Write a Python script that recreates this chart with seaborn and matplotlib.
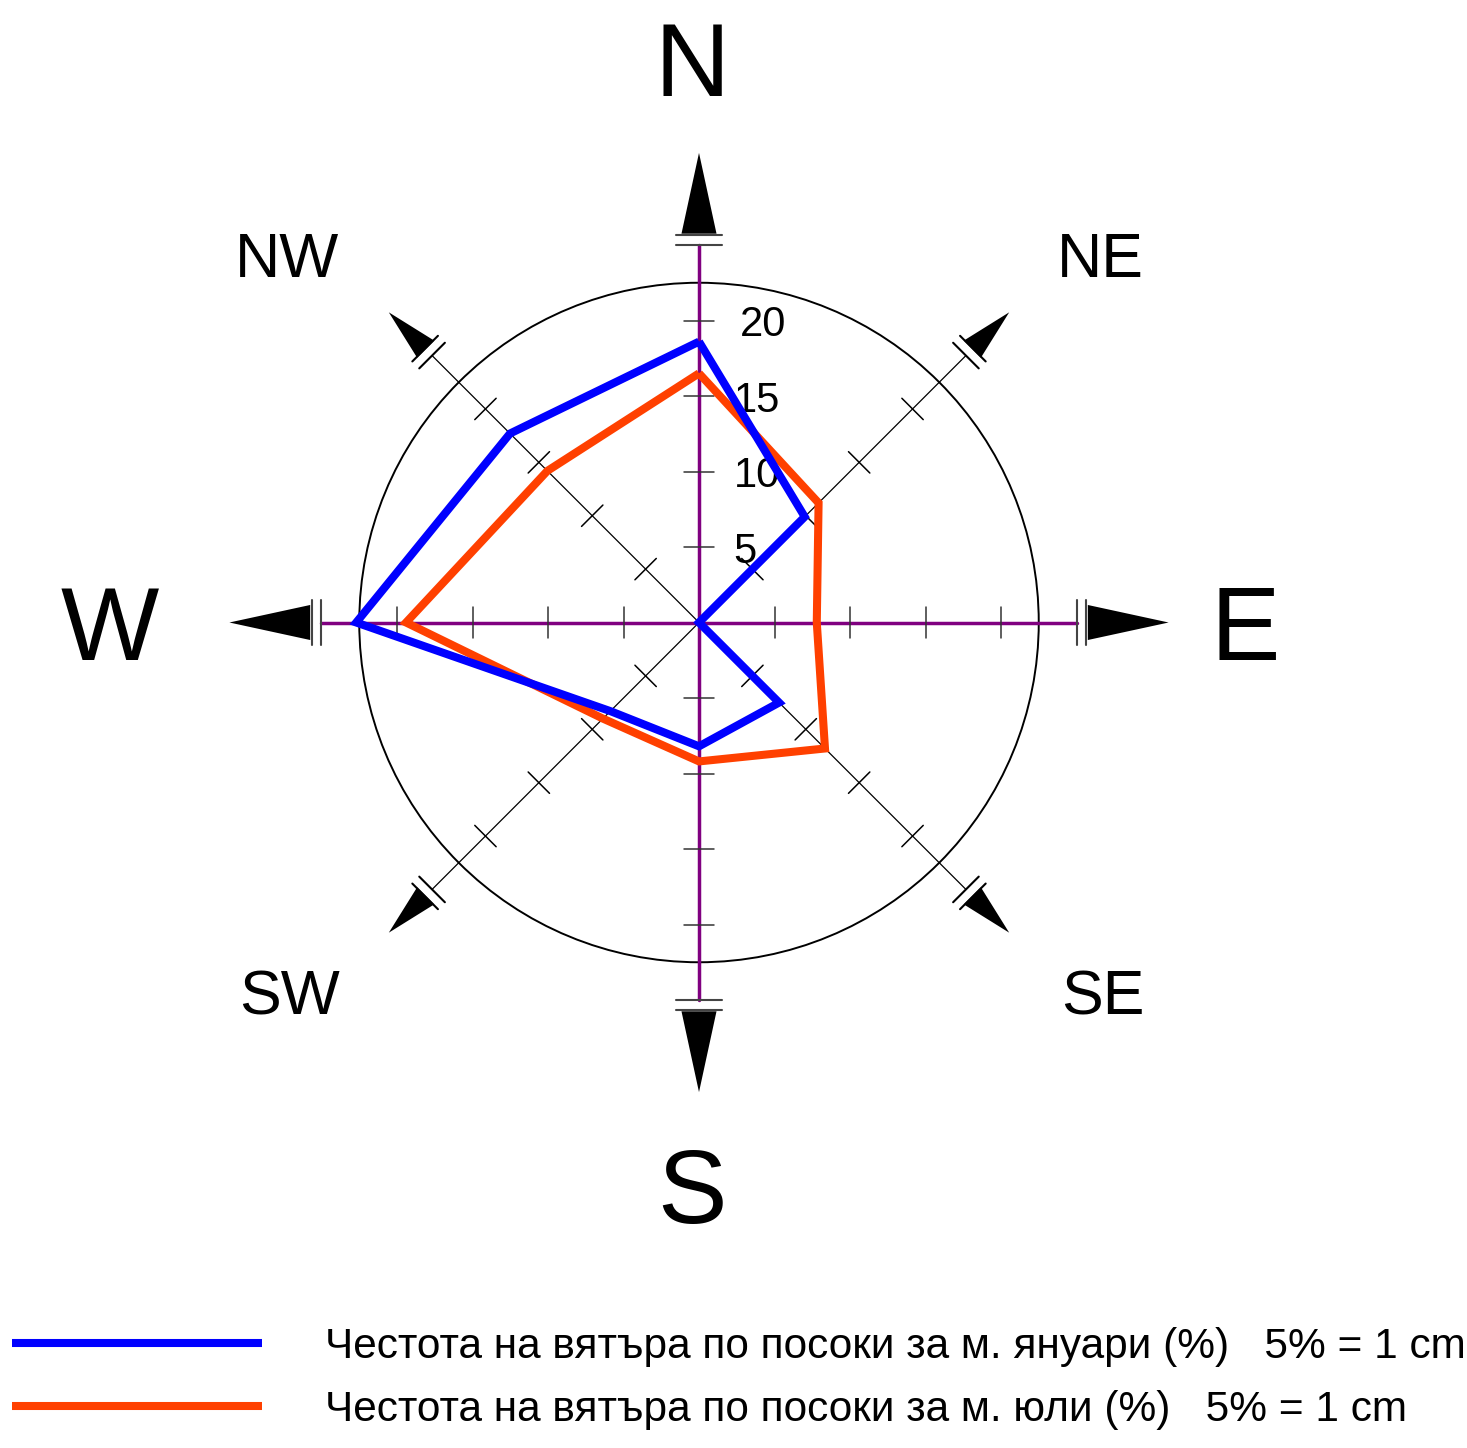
import numpy as np
import matplotlib
matplotlib.use("Agg")
import matplotlib.pyplot as plt
import seaborn as sns
from matplotlib.patches import Circle, Polygon

# wind frequency (%) by direction
directions = ["N", "NE", "E", "SE", "S", "SW", "W", "NW"]
angles_deg = [0, 45, 90, 135, 180, 225, 270, 315]
january = [18.6, 9.9, 0.0, 7.5, 8.2, 8.3, 22.7, 17.7]
july = [16.5, 11.2, 7.8, 11.8, 9.2, 9.0, 19.4, 14.2]
ring_values = [5, 10, 15, 20]
ring_labels = ["5", "10", "15", "20"]
label_january = "Честота на вятъра по посоки за м. януари (%)   5% = 1 cm"
label_july = "Честота на вятъра по посоки за м. юли (%)   5% = 1 cm"

sns.set_theme(style="white")
plt.rcParams["font.family"] = ["Liberation Sans", "DejaVu Sans"]

PX = 15.1  # pixels per 1 %
W, H = 1467, 1448
cx, cy = 699, 622.5

fig = plt.figure(figsize=(W / 100, H / 100), dpi=100)
ax = fig.add_axes([0, 0, 1, 1])
ax.set_xlim(-cx / PX, (W - cx) / PX)
ax.set_ylim(-(H - cy) / PX, cy / PX)
ax.set_aspect("equal")
ax.axis("off")


def unit(a):
    t = np.deg2rad(a)
    return np.sin(t), np.cos(t)


def to_xy(values):
    t = np.deg2rad(np.array(angles_deg + [angles_deg[0]]))
    r = np.array(values + [values[0]])
    return r * np.sin(t), r * np.cos(t)


# outer circle
ax.add_patch(Circle((0, 0), 22.5, fill=False, color="black", lw=1.4, zorder=1))

# compass axes with ticks, double bars and arrow heads
for a in angles_deg:
    ux, uy = unit(a)
    px, py = -uy, ux
    main = a % 90 == 0
    ax.plot([0, 25 * ux], [0, 25 * uy], color="#800080" if main else "black",
            lw=2.5 if main else 0.9, zorder=2)
    for v in ring_values:
        ax.plot([v * ux - px, v * ux + px], [v * uy - py, v * uy + py],
                color="#333333" if main else "black", lw=1.1, zorder=3)
    half = 1.5 if main else 1.2
    for rb in (25.0, 25.65):
        ax.plot([rb * ux - half * px, rb * ux + half * px],
                [rb * uy - half * py, rb * uy + half * py],
                color="#444444" if main else "black", lw=1.5, zorder=3)
    base, hw, tip = (25.75, 1.16, 31.1) if main else (25.6, 0.8, 29.05)
    tri = [(base * ux - hw * px, base * uy - hw * py),
           (base * ux + hw * px, base * uy + hw * py),
           (tip * ux, tip * uy)]
    ax.add_patch(Polygon(tri, closed=True, color="black", lw=0, zorder=3))

# ring value labels next to the N axis
for v, lab in zip(ring_values, ring_labels):
    ax.text(2.7 if v == 20 else 2.3, v - 0.3, lab, fontsize=30, ha="left",
            va="center", color="black", zorder=3)

# direction labels
big = {"N": (-0.46, 36.6), "E": (36.2, -0.75), "S": (-0.46, -38.0), "W": (-39.0, -0.75)}
small = {"NE": (26.6, 23.95), "NW": (-27.3, 23.95), "SW": (-27.15, -24.9), "SE": (26.75, -24.9)}
for d, (x, y) in big.items():
    ax.text(x, y, d, fontsize=75, ha="center", va="center", color="black")
for d, (x, y) in small.items():
    ax.text(x, y, d, fontsize=45, ha="center", va="center", color="black")

# the two wind roses
jx, jy = to_xy(january)
sns.lineplot(x=jx, y=jy, sort=False, estimator=None, color="#0000FF", lw=5.8,
             solid_joinstyle="miter", solid_capstyle="butt",
             label=label_january, ax=ax, zorder=5)
lx, ly = to_xy(july)
sns.lineplot(x=lx, y=ly, sort=False, estimator=None, color="#FF4000", lw=5.8,
             solid_joinstyle="miter", solid_capstyle="butt",
             label=label_july, ax=ax, zorder=4)

ax.legend(loc="lower left", bbox_to_anchor=(12 / W, 0.0125), frameon=False,
          fontsize=30.5, labelcolor="black", handlelength=5.9, handletextpad=1.49,
          labelspacing=0.55, borderpad=0, borderaxespad=0)

fig.savefig("out.png", dpi=100)
